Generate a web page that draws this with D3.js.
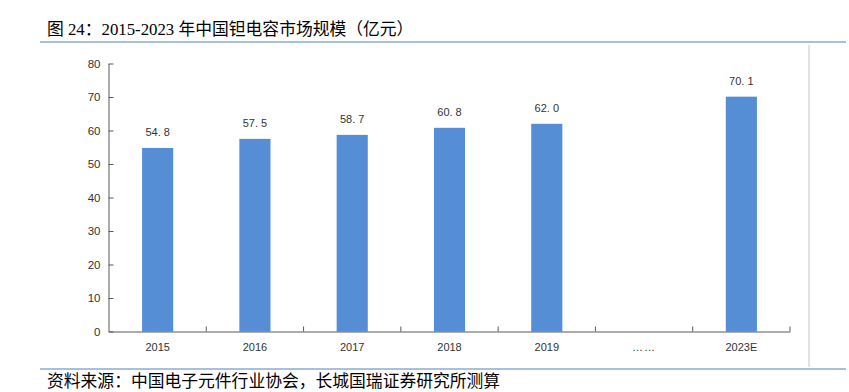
<!DOCTYPE html>
<html><head><meta charset="utf-8">
<script src="https://cdn.jsdelivr.net/npm/d3@7"></script>
<style>
html,body{margin:0;padding:0;background:#fff;}
svg{display:block;}
</style></head>
<body>
<svg id="chart" width="849" height="392"></svg>
<script>
const titleText = "图 24：2015-2023 年中国钽电容市场规模（亿元）";
const sourceText = "资料来源：中国电子元件行业协会，长城国瑞证券研究所测算";
const categories = ["2015", "2016", "2017", "2018", "2019", "……", "2023E"];
const values = [54.8, 57.5, 58.7, 60.8, 62.0, null, 70.1];
const valueLabels = ["54. 8", "57. 5", "58. 7", "60. 8", "62. 0", "", "70. 1"];
const yTicks = [0, 10, 20, 30, 40, 50, 60, 70, 80];

const svg = d3.select("#chart");
const sans = "Arial, 'Liberation Sans', 'Noto Sans CJK SC', sans-serif";

// title
svg.append("text")
  .attr("x", 47).attr("y", 35)
  .attr("font-family", "'Times New Roman','Liberation Serif','Noto Sans CJK SC',serif")
  .attr("font-size", 16.8).attr("fill", "#000")
  .text(titleText);
svg.append("line").attr("x1", 40).attr("x2", 846).attr("y1", 42).attr("y2", 42)
  .attr("stroke", "#A7C0E0").attr("stroke-width", 2);
// right border
svg.append("line").attr("x1", 809).attr("x2", 809).attr("y1", 45).attr("y2", 367)
  .attr("stroke", "#D9D9D9").attr("stroke-width", 1.5);
// bottom line
svg.append("line").attr("x1", 40).attr("x2", 846).attr("y1", 369).attr("y2", 369)
  .attr("stroke", "#A7C0E0").attr("stroke-width", 2);
svg.append("text")
  .attr("x", 47).attr("y", 387)
  .attr("font-family", "'Noto Sans CJK SC', sans-serif")
  .attr("font-size", 16.8).attr("fill", "#000")
  .text(sourceText);

const x = d3.scaleBand().domain(categories).range([109, 790]).paddingInner(0.68).paddingOuter(0.34);
const y = d3.scaleLinear().domain([0, 80]).range([331.5, 63.5]);

// bars
const data = categories.map((c, i) => ({c, v: values[i], l: valueLabels[i]})).filter(d => d.v != null);
svg.append("g").selectAll("rect").data(data).enter().append("rect")
  .attr("x", d => x(d.c)).attr("width", x.bandwidth())
  .attr("y", d => y(d.v)).attr("height", d => y(0) - y(d.v))
  .attr("fill", "#558ED5");
svg.append("g").selectAll("text").data(data).enter().append("text")
  .attr("x", d => x(d.c) + x.bandwidth() / 2)
  .attr("y", d => y(d.v) - 12)
  .attr("text-anchor", "middle")
  .attr("font-family", sans).attr("font-size", 11).attr("fill", "#333")
  .text(d => d.l);

// y axis
const yAxis = svg.append("g").attr("transform", "translate(108.5,0)")
  .call(d3.axisLeft(y).tickValues(yTicks).tickSize(-5).tickPadding(8).tickSizeOuter(0));
yAxis.selectAll("path,line").attr("stroke", "#595959");
yAxis.selectAll("text").attr("font-family", sans).attr("font-size", 11.5).attr("fill", "#333");

// x axis
const xAxis = svg.append("g").attr("transform", "translate(0,331.5)")
  .call(d3.axisBottom(x).tickSize(0).tickPadding(12).tickSizeOuter(0));
xAxis.select("path").attr("stroke", "#595959");
xAxis.selectAll("text").attr("font-family", sans).attr("font-size", 11).attr("fill", "#333")
  .attr("letter-spacing", d => d === "……" ? 1 : 0);
const bounds = d3.range(categories.length + 1).map(i => x.range()[0] + i * x.step());
xAxis.selectAll("line.bound").data(bounds.slice(1)).enter().append("line")
  .attr("class", "bound")
  .attr("x1", d => d).attr("x2", d => d).attr("y1", 0).attr("y2", -5)
  .attr("stroke", "#595959");
</script>
</body></html>
